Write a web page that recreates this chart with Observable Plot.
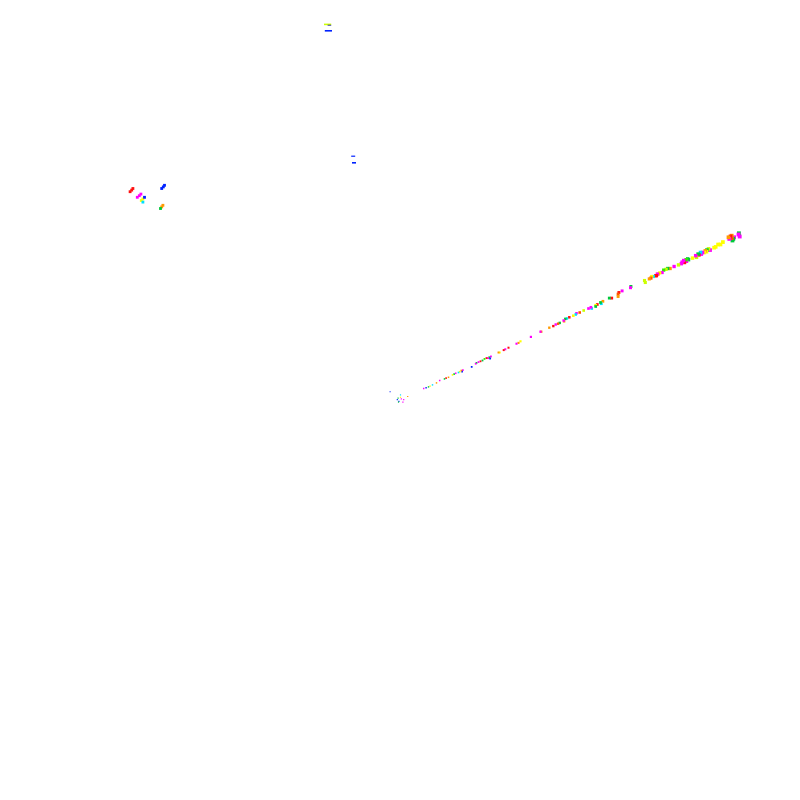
<!DOCTYPE html>
<html>
<head>
<meta charset="utf-8">
<script src="https://cdn.jsdelivr.net/npm/d3@7"></script>
<script src="https://cdn.jsdelivr.net/npm/@observablehq/plot@0.6"></script>
<style>
  html, body { margin: 0; padding: 0; background: #ffffff; }
  #chart svg { display: block; }
</style>
</head>
<body>
<div id="chart"></div>
<script>
// Category codes and their colours
const categories = ["R", "M", "Y", "C", "G", "L", "A", "B", "O", "V", "N"];
const palette = ["#ff1010", "#ff00ff", "#ffff00", "#ccff00", "#00c83a", "#33ee00", "#00e0ff", "#0022ff", "#ff9900", "#ff5500", "#1010b0"];

// Main diagonal stream of points
const streamX = [
  48.7, 50.0, 50.9, 49.7, 49.6, 49.8, 50.1, 50.4, 50.3, 49.75, 50.0,
  52.9, 53.2, 53.5, 53.7, 54.0, 54.5, 54.9, 55.5, 55.7, 56.0, 56.5, 56.7, 56.9, 57.25, 57.4, 57.6, 57.7, 57.8,
  58.9, 59.4, 59.5, 59.75, 60.0, 60.25, 60.5, 60.75, 60.95, 61.1, 61.2, 61.3,
  62.25, 62.4, 62.9, 63.1, 63.5, 64.5, 64.75, 65.0, 66.3, 67.5, 67.6,
  68.6, 69.1, 69.4, 69.7, 69.9, 70.4, 70.45, 70.6, 70.8, 71.1, 71.6, 71.9, 72.0, 72.4, 72.9,
  73.5, 73.8, 73.9, 74.4, 74.4, 74.6, 75.0, 75.1, 75.3, 76.1, 76.4, 77.2, 77.3, 77.2, 77.7, 78.75, 78.8,
  80.5, 80.6, 81.1, 81.4, 81.6, 81.9, 82.1, 82.2, 82.4, 82.7, 82.9, 83.2, 83.4, 83.7, 84.2, 84.75,
  85.2, 85.4, 85.5, 85.7, 85.9, 85.75, 86.5, 86.9, 87.0, 87.2, 87.3, 87.5, 87.75, 88.1, 88.3, 88.25, 88.5, 88.7,
  89.2, 89.7, 90.3, 91.1, 91.4, 91.4, 91.7, 91.5, 91.25, 92.3, 92.25, 92.4,
  81.3, 82.0, 85.1, 86.0, 87.6, 88.0, 89.4, 90.0, 91.6, 91.0
];
const streamY = [
  51.1, 50.7, 50.5, 50.3, 50.1, 49.9, 50.2, 50.1, 49.8, 49.8, 50.4,
  51.5, 51.6, 51.7, 51.8, 51.95, 52.2, 52.5, 52.7, 52.8, 52.9, 53.2, 53.3, 53.4, 53.5, 53.6, 53.75, 53.6, 53.8,
  54.2, 54.6, 54.7, 54.8, 54.9, 55.0, 55.2, 55.3, 55.3, 55.4, 55.25, 55.5,
  56.0, 56.0, 56.3, 56.4, 56.6, 57.1, 57.2, 57.4, 57.95, 58.6, 58.6,
  59.1, 59.3, 59.5, 59.6, 59.7, 60.0, 59.9, 60.2, 60.25, 60.4, 60.6, 60.75, 60.9, 61.0, 61.25,
  61.5, 61.65, 61.5, 61.9, 61.75, 62.0, 62.25, 62.1, 62.4, 62.8, 62.8, 63.3, 63.5, 63.0, 63.7, 64.1, 64.25,
  65.0, 64.75, 65.2, 65.5, 65.5, 65.6, 65.8, 65.8, 65.95, 66.0, 66.3, 66.4, 66.5, 66.5, 66.75, 66.95,
  67.3, 67.5, 67.25, 67.6, 67.7, 67.4, 67.8, 68.1, 67.9, 68.3, 68.2, 68.5, 68.5, 68.7, 68.8, 68.6, 68.95, 68.8,
  69.1, 69.5, 69.8, 70.2, 70.3, 70.6, 70.4, 70.0, 70.5, 70.9, 70.75, 70.5,
  65.3, 65.6, 67.1, 67.6, 68.3, 68.5, 69.2, 69.5, 70.2, 70.4
];
const streamCat = [
  "B", "A", "O", "G", "B", "B", "M", "M", "M", "G", "Y",
  "M", "B", "G", "Y", "A", "O", "M", "G", "R", "O", "Y", "G", "M", "A", "Y", "O", "B", "M",
  "B", "M", "G", "M", "R", "G", "L", "R", "M", "G", "B", "M",
  "O", "Y", "R", "M", "R", "M", "O", "Y", "M", "M", "O",
  "O", "R", "M", "V", "G", "M", "O", "G", "A", "R", "Y", "A", "M", "V", "C",
  "M", "M", "A", "Y", "G", "R", "G", "A", "O", "G", "R", "V", "R", "O", "M", "M", "G",
  "C", "C", "O", "Y", "A", "R", "M", "O", "Y", "M", "L", "C", "G", "O", "M", "C",
  "M", "M", "R", "L", "G", "M", "Y", "M", "C", "G", "R", "A", "M", "O", "G", "Y", "C", "M",
  "Y", "Y", "Y", "M", "V", "O", "M", "G", "R", "G", "M", "M",
  "V", "R", "M", "G", "M", "Y", "Y", "Y", "G", "O"
];

// Small diagonal group at upper left
const groupX = [16.2, 16.4, 16.55, 17.1, 17.35, 17.55, 17.6, 17.8, 18.0, 17.8, 20.15, 20.35, 20.5, 20.15, 20.3, 20.0];
const groupY = [76.1, 76.3, 76.5, 75.4, 75.6, 75.8, 75.0, 75.2, 75.4, 74.8, 76.5, 76.7, 76.9, 74.2, 74.4, 74.0];
const groupCat = ["R", "R", "R", "M", "M", "M", "Y", "Y", "B", "A", "B", "B", "B", "O", "O", "G"];

// Thin horizontal segments near the top
const barX1 = [40.5, 40.95, 40.6, 43.9, 44.0];
const barX2 = [41.4, 41.4, 41.5, 44.4, 44.5];
const barY1 = [96.85, 96.8, 96.05, 80.4, 79.55];
const barY2 = [97.05, 96.9, 96.25, 80.55, 79.75];
const barCat = ["C", "N", "B", "B", "B"];

const stream = streamX.map((x, i) => ({x, y: streamY[i], c: streamCat[i]}));
const group = groupX.map((x, i) => ({x, y: groupY[i], c: groupCat[i]}));
const bars = barX1.map((x1, i) => ({x1, x2: barX2[i], y1: barY1[i], y2: barY2[i], c: barCat[i]}));

const chart = Plot.plot({
  width: 800,
  height: 800,
  margin: 0,
  style: {background: "#ffffff"},
  x: {domain: [0, 100], axis: null},
  y: {domain: [0, 100], axis: null},
  r: {type: "linear", domain: [48, 93], range: [0.6, 2.2]},
  color: {domain: categories, range: palette},
  marks: [
    Plot.rect(bars, {x1: "x1", x2: "x2", y1: "y1", y2: "y2", fill: "c"}),
    Plot.dot(group, {x: "x", y: "y", fill: "c", symbol: "square", r: 1.6}),
    Plot.dot(stream, {x: "x", y: "y", fill: "c", symbol: "square", r: "x"})
  ]
});
document.getElementById("chart").appendChild(chart);
</script>
</body>
</html>
